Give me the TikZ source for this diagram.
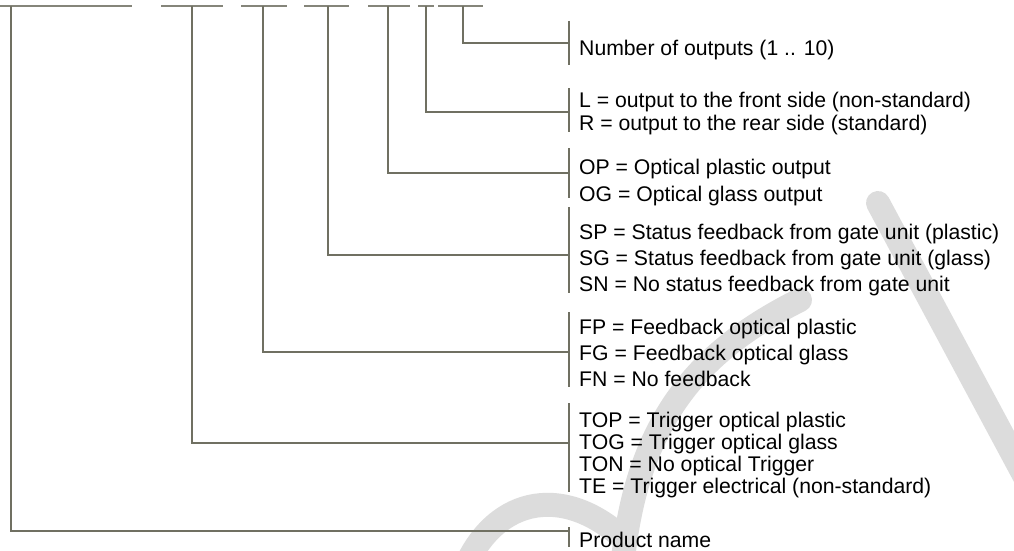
\documentclass[tikz,border=0pt]{standalone}
\usepackage{fontspec}
\setmainfont{Liberation Sans}
\definecolor{linec}{RGB}{112,112,98}
\definecolor{wmark}{RGB}{220,220,220}
\begin{document}
\begin{tikzpicture}[x=1pt,y=-1pt,
  conn/.style={draw=linec, line width=2pt},
  topseg/.style={draw=linec!85, line width=2.4pt},
  lbl/.style={anchor=base west, inner sep=0pt, font=\fontsize{21.2}{25}\selectfont},
  wm/.style={draw=wmark, line width=24pt, line cap=round}]
\useasboundingbox (0,0) rectangle (1014,551);
\fill[white] (0,0) rectangle (1014,551);
% watermark
\begin{scope}
\clip (0,0) rectangle (1014,551);
\draw[wm] (878,203) -- (1040,505);
\draw[wm] (800,300) .. controls (700,350) and (635,420) .. (622,570);
\draw[wm] (462,575) .. controls (490,500) and (560,480) .. (625,540);
\end{scope}
% top segments
\foreach \i/\a/\b in {1/0/132, 2/161/223, 3/241/287, 4/304/349, 5/368/410, 6/418/434, 7/438/483} {
  \coordinate (sa\i) at (\a,6);
  \coordinate (sb\i) at (\b,6);
  \draw[topseg] (sa\i) -- (sb\i);
}
% tee points
\coordinate (t1) at (11,6);
\coordinate (t2) at (192,6);
\coordinate (t3) at (263,6);
\coordinate (t4) at (328,6);
\coordinate (t5) at (388,6);
\coordinate (t6) at (426,6);
\coordinate (t7) at (463,6);
% bars
\coordinate (b1a) at (569,21);  \coordinate (b1b) at (569,65);  \coordinate (b1) at (569,43);
\coordinate (b2a) at (569,88);  \coordinate (b2b) at (569,132); \coordinate (b2) at (569,112);
\coordinate (b3a) at (569,148); \coordinate (b3b) at (569,198); \coordinate (b3) at (569,173);
\coordinate (b4a) at (569,207); \coordinate (b4b) at (569,293); \coordinate (b4) at (569,255);
\coordinate (b5a) at (569,312); \coordinate (b5b) at (569,387); \coordinate (b5) at (569,352);
\coordinate (b6a) at (569,403); \coordinate (b6b) at (569,492); \coordinate (b6) at (569,443);
\coordinate (b7a) at (569,527); \coordinate (b7b) at (569,547); \coordinate (b7) at (569,531);
\foreach \i in {1,...,7} { \draw[conn] (b\i a) -- (b\i b); }
% connectors
\draw[conn] (t7) |- (b1);
\draw[conn] (t6) |- (b2);
\draw[conn] (t5) |- (b3);
\draw[conn] (t4) |- (b4);
\draw[conn] (t3) |- (b5);
\draw[conn] (t2) |- (b6);
\draw[conn] (t1) |- (b7);
% labels
\node[lbl] (n1)  at (579,55.6)  {Number of outputs (1 .. 10)};
\node[lbl] (l1)  at (579,107.6) {L = output to the front side (non-standard)};
\node[lbl] (l2)  at (579,130.6) {R = output to the rear side (standard)};
\node[lbl] (o1)  at (579,174.6) {OP = Optical plastic output};
\node[lbl] (o2)  at (579,201.6) {OG = Optical glass output};
\node[lbl] (s1)  at (579,239.6) {SP = Status feedback from gate unit (plastic)};
\node[lbl] (s2)  at (579,265.6) {SG = Status feedback from gate unit (glass)};
\node[lbl] (s3)  at (579,291.6) {SN = No status feedback from gate unit};
\node[lbl] (f1)  at (579,334.6) {FP = Feedback optical plastic};
\node[lbl] (f2)  at (579,360.6) {FG = Feedback optical glass};
\node[lbl] (f3)  at (579,386.6) {FN = No feedback};
\node[lbl] (tr1) at (579,427.6) {TOP = Trigger optical plastic};
\node[lbl] (tr2) at (579,449.6) {TOG = Trigger optical glass};
\node[lbl] (tr3) at (579,471.6) {TON = No optical Trigger};
\node[lbl] (tr4) at (579,493.6) {TE = Trigger electrical (non-standard)};
\node[lbl] (p1)  at (579,547.6) {Product name};
\end{tikzpicture}
\end{document}
